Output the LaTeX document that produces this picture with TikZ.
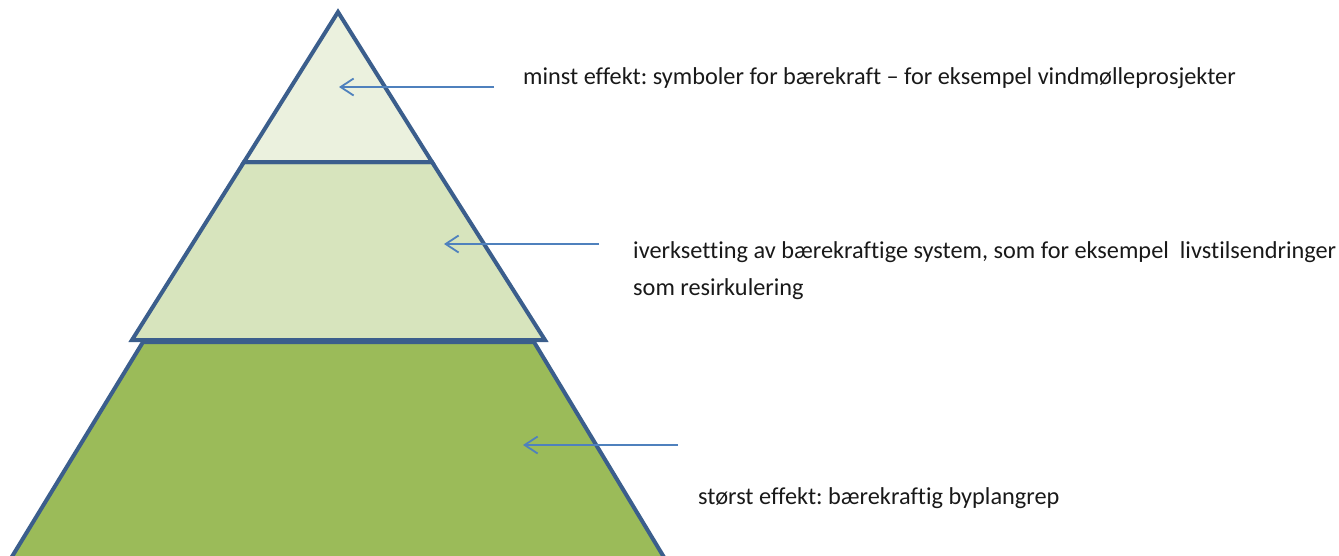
\documentclass[tikz,border=0pt]{standalone}
\usepackage{fontspec}
\setmainfont{Carlito}[Ligatures={NoCommon}]
\usetikzlibrary{arrows.meta}
\frenchspacing
\definecolor{edgeblue}{HTML}{3B5E8C}
\definecolor{arrowblue}{HTML}{4F81BD}
\definecolor{tierA}{HTML}{EBF1DE}
\definecolor{tierB}{HTML}{D7E4BD}
\definecolor{tierC}{HTML}{9BBB59}
\tikzset{
  tier/.style={draw=edgeblue, line width=4pt, line join=miter},
  pointer/.style={draw=arrowblue, line width=1.8pt, -{Straight Barb[length=13pt,width=17pt,line width=1.8pt]}},
  label/.style={anchor=base west, inner sep=0pt, font=\fontsize{24.3}{37}\selectfont, text=black!90}
}
\begin{document}
\begin{tikzpicture}[x=1pt,y=-1pt]
\useasboundingbox (0,0) rectangle (1339,555);
% bottom tier (continues below the page edge)
\begin{scope}
\clip (-10,-10) rectangle (1349,556);
\filldraw[tier, fill=tierC] (143,342) -- (534,342) -- (720,650) -- (-45,650) -- cycle;
\end{scope}
% middle tier
\filldraw[tier, fill=tierB] (244,162) -- (432,162) -- (545,340) -- (132,340) -- cycle;
% top tier
\filldraw[tier, fill=tierA] (338,12) -- (432,162) -- (244,162) -- cycle;

% labels
\node[label] (t1) at (523,84) {minst effekt: symboler for bærekraft – for eksempel vindmølleprosjekter};
\node[label] (t2) at (633,258) {iverksetting av bærekraftige system, som for eksempel\ \ livstilsendringer};
\node[label] (t3) at (633,295) {som resirkulering};
\node[label] (t4) at (698,504) {størst effekt: bærekraftig byplangrep};

% pointers into the tiers
\coordinate (a1s) at (494,87);  \coordinate (a1e) at (339,87);
\coordinate (a2s) at (599,244); \coordinate (a2e) at (444,244);
\coordinate (a3s) at (678,445); \coordinate (a3e) at (523,445);
\draw[pointer] (a1s) -- (a1e);
\draw[pointer] (a2s) -- (a2e);
\draw[pointer] (a3s) -- (a3e);
\end{tikzpicture}
\end{document}
